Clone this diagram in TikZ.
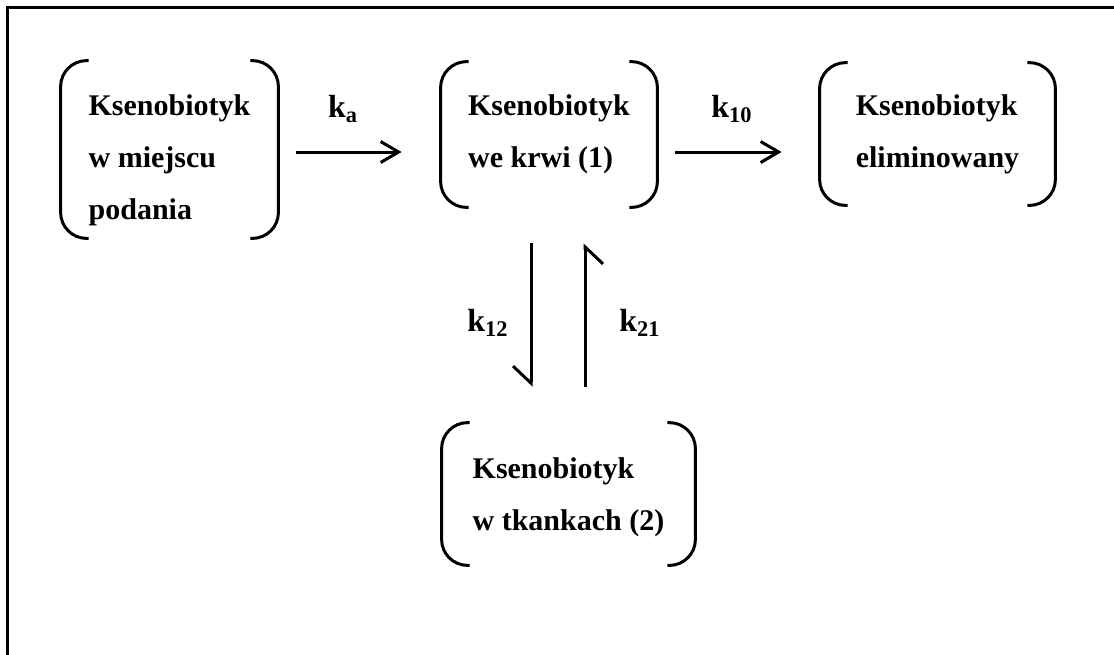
\documentclass[tikz,border=0pt]{standalone}
\usepackage{fontspec}
\setmainfont{Liberation Serif}
\usetikzlibrary{arrows.meta}

% round brackets on both sides of a compartment
\newcommand\parens[1]{%
  \draw[brk] ([xshift=14pt]#1.north west) -- (#1.north west) -- (#1.south west) -- ([xshift=14pt]#1.south west);
  \draw[brk] ([xshift=-14pt]#1.north east) -- (#1.north east) -- (#1.south east) -- ([xshift=-14pt]#1.south east);}

\begin{document}
\begin{tikzpicture}[x=0.5pt,y=-0.5pt,
  comp/.style={align=left,inner sep=0pt,font=\fontsize{15}{26}\selectfont\bfseries},
  rate/.style={anchor=base,inner sep=0pt,font=\fontsize{16}{19}\selectfont\bfseries},
  brk/.style={line width=1.5pt,rounded corners=13pt},
  flow/.style={line width=1.5pt,-{Straight Barb[length=9pt,width=10.5pt]}},
  half/.style={line width=1.5pt,-{Straight Barb[right,length=8.5pt,width=18pt]}}]
\useasboundingbox (0,0) rectangle (1114,654);
\draw[line width=1.5pt] (7.5,660) -- (7.5,7.5) -- (1120,7.5);

\node[comp,minimum width=108.5pt,minimum height=88.5pt] (podanie) at (169.5,149.5) {\rule{0pt}{21.5pt}Ksenobiotyk\\w miejscu\\podania};
\node[comp,minimum width=108pt,minimum height=72.5pt] (krew) at (549,134.5) {Ksenobiotyk\\we krwi (1)};
\node[comp,minimum width=117.5pt,minimum height=71pt] (elim) at (937.5,134) {Ksenobiotyk\\eliminowany};
\node[comp,minimum width=126.5pt,minimum height=71pt] (tkanki) at (568.5,494) {\rule{0pt}{13.5pt}Ksenobiotyk\\w tkankach (2)};

\parens{podanie}
\parens{krew}
\parens{elim}
\parens{tkanki}

\draw[flow] ([xshift=9pt,yshift=-1.25pt]podanie.east) -- ([xshift=-19.5pt,yshift=-8.75pt]krew.west);
\draw[flow] ([xshift=9pt,yshift=-8.75pt]krew.east) -- ([xshift=-19pt,yshift=-9pt]elim.west);
\draw[half] ([xshift=-9pt,yshift=-18pt]krew.south) -- ([xshift=-18.75pt,yshift=18pt]tkanki.north);
\draw[half] ([xshift=8.25pt,yshift=18pt]tkanki.north) -- ([xshift=18pt,yshift=-18pt]krew.south);

\node[rate] (ka) at (343,117) {k\textsubscript{a}};
\node[rate] (k10) at (732,117) {k\textsubscript{10}};
\node[rate] (k12) at (488,331) {k\textsubscript{12}};
\node[rate] (k21) at (640,331) {k\textsubscript{21}};
\end{tikzpicture}
\end{document}
